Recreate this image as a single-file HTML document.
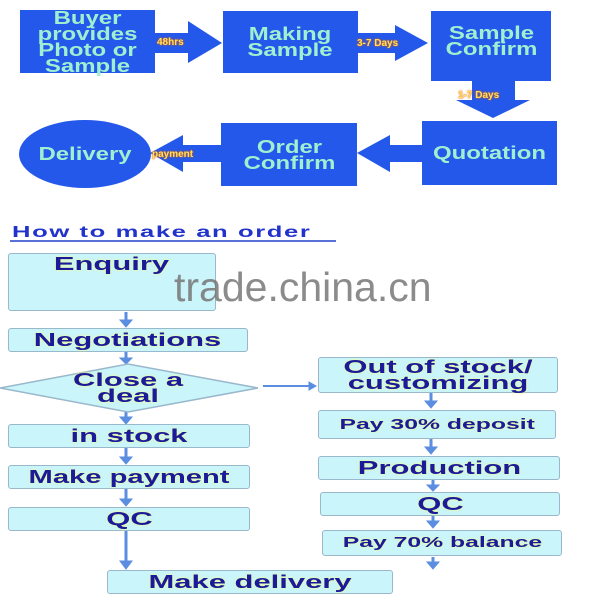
<!DOCTYPE html>
<html><head><style>
body{margin:0;width:600px;height:600px;background:#fff;overflow:hidden;position:relative;font-family:"Liberation Sans",sans-serif}
.b{position:absolute;background:#2458ea;color:#9ef0d0;font-weight:bold;font-size:18px;line-height:16px;text-align:center;display:flex;align-items:center;justify-content:center;white-space:nowrap}
.b span{display:inline-block;transform:scaleX(1.33)}
.c{position:absolute;background:#c9f5fb;border:1.5px solid #9ab8cc;border-radius:3px;color:#1a1a9a;font-weight:bold;font-size:18px;text-align:center;display:flex;align-items:center;justify-content:center;line-height:16px;text-shadow:0 0 2px #ff6;white-space:nowrap}
.c span{display:inline-block;transform:scaleX(1.72)}
.l{position:absolute;color:#ffe060;font-weight:bold;font-size:10px;text-shadow:0 0 2px #e06000,0 0 1px #e06000}
</style></head><body>
<svg width="600" height="600" style="position:absolute;left:0;top:0">
<g fill="#2458ea">
<polygon points="135,33 188,33 188,21 222,43 188,63 188,53 135,53"/>
<polygon points="340,33 395,33 395,25 428,43 395,61 395,53 340,53"/>
<polygon points="472,78 515,78 515,100 530,100 493,118 456,100 472,100"/>
<polygon points="440,145 390,145 390,135 357,153 390,172 390,162 440,162"/>
<polygon points="225,145 183,145 183,135 150,153 183,172 183,162 225,162"/>
<ellipse cx="85" cy="154" rx="66" ry="34"/>
</g>
<g fill="#5b8ee0" stroke="#5b8ee0">
<line x1="126" y1="312" x2="126" y2="322" stroke-width="3"/><polygon points="120,320 132,320 126,327"/>
<line x1="126" y1="351" x2="126" y2="359" stroke-width="3"/><polygon points="120,358 132,358 126,364"/>
<line x1="126" y1="412" x2="126" y2="418" stroke-width="3"/><polygon points="120,417 132,417 126,424"/>
<line x1="126" y1="447" x2="126" y2="458" stroke-width="3"/><polygon points="120,457 132,457 126,464"/>
<line x1="126" y1="489" x2="126" y2="499" stroke-width="3"/><polygon points="120,499 132,499 126,506"/>
<line x1="126" y1="531" x2="126" y2="562" stroke-width="3"/><polygon points="120,561 132,561 126,569"/>
<line x1="263" y1="386" x2="310" y2="386" stroke-width="2"/><polygon points="309,382 316,386 309,390"/>
<line x1="431" y1="393" x2="431" y2="402" stroke-width="3"/><polygon points="425,401 437,401 431,408"/>
<line x1="431" y1="439" x2="431" y2="448" stroke-width="3"/><polygon points="425,447 437,447 431,454"/>
<line x1="433" y1="480" x2="433" y2="485" stroke-width="3"/><polygon points="427,485 439,485 433,491"/>
<line x1="433" y1="516" x2="433" y2="522" stroke-width="3"/><polygon points="427,521 439,521 433,528"/>
<line x1="433" y1="557" x2="433" y2="562" stroke-width="3"/><polygon points="427,562 439,562 433,569"/>
</g>
<polygon points="0,388 128,364 258,388 128,412" fill="#c9f5fb" stroke="#9ab8cc" stroke-width="1.5"/>
<line x1="10" y1="241" x2="336" y2="241" stroke="#2244cc" stroke-width="1.5"/>
</svg>
<div class="b" style="left:20px;top:10px;width:135px;height:63px"><span>Buyer<br>provides<br>Photo or<br>Sample</span></div>
<div class="b" style="left:223px;top:11px;width:135px;height:62px"><span>Making<br>Sample</span></div>
<div class="b" style="left:431px;top:11px;width:120px;height:70px;align-items:flex-start;padding-top:14px;box-sizing:border-box"><span>Sample<br>Confirm</span></div>
<div class="b" style="left:422px;top:121px;width:135px;height:64px"><span>Quotation</span></div>
<div class="b" style="left:221px;top:123px;width:136px;height:63px"><span>Order<br>Confirm</span></div>
<div class="b" style="left:20px;top:140px;width:130px;height:28px;background:none"><span>Delivery</span></div>
<div class="l" style="left:157px;top:37px">48hrs</div>
<div class="l" style="left:357px;top:38px">3-7 Days</div>
<div class="l" style="left:458px;top:90px">1-7 Days</div>
<div class="l" style="left:152px;top:149px">payment</div>
<div style="position:absolute;left:12px;top:224px;color:#2233cc;font-weight:bold;font-size:16px;letter-spacing:1px;white-space:nowrap;transform:scaleX(1.6);transform-origin:left">How to make an order</div>
<div class="c" style="left:8px;top:253px;width:208px;height:58px;align-items:flex-start;padding-top:2px;box-sizing:border-box"><span>Enquiry</span></div>
<div class="c" style="left:8px;top:328px;width:238px;height:22px"><span>Negotiations</span></div>
<div class="c" style="left:40px;top:372px;width:176px;height:32px;background:none;border:none"><span>Close a<br>deal</span></div>
<div class="c" style="left:8px;top:424px;width:240px;height:22px"><span>in stock</span></div>
<div class="c" style="left:8px;top:465px;width:240px;height:22px"><span style="transform:scaleX(1.62)">Make payment</span></div>
<div class="c" style="left:8px;top:507px;width:240px;height:22px"><span>QC</span></div>
<div class="c" style="left:107px;top:570px;width:284px;height:22px"><span>Make delivery</span></div>
<div class="c" style="left:318px;top:357px;width:238px;height:34px"><span>Out of stock/<br>customizing</span></div>
<div class="c" style="left:318px;top:410px;width:236px;height:27px;font-size:15px"><span style="transform:scaleX(1.65)">Pay 30% deposit</span></div>
<div class="c" style="left:318px;top:456px;width:240px;height:22px"><span>Production</span></div>
<div class="c" style="left:320px;top:492px;width:238px;height:22px"><span>QC</span></div>
<div class="c" style="left:322px;top:530px;width:238px;height:24px;font-size:15px"><span style="transform:scaleX(1.65)">Pay 70% balance</span></div>
<div style="position:absolute;left:174px;top:264px;color:#777;font-size:41px;opacity:0.85">trade.china.cn</div>
</body></html>
